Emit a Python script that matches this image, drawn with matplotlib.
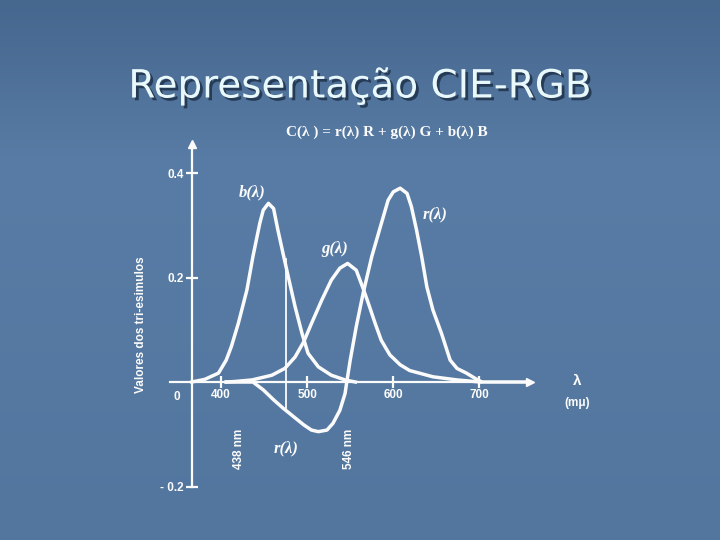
import numpy as np
import matplotlib.pyplot as plt
import matplotlib.patheffects as pe

# curve data (wavelength in nm, tristimulus value)
b_wl = [366, 381, 397, 406, 412, 420, 430, 437, 445, 449, 455, 461, 466, 472, 478,
        486, 494, 501, 513, 528, 544, 556]
b_val = [0.0, 0.005, 0.017, 0.042, 0.068, 0.112, 0.176, 0.240, 0.304, 0.329, 0.342, 0.332, 0.291, 0.246, 0.202,
         0.144, 0.093, 0.055, 0.029, 0.013, 0.004, 0.0]

g_wl = [406, 416, 436, 459, 474, 486, 496, 505, 517, 528, 538, 547, 557, 565, 571,
        579, 586, 596, 608, 619, 646, 674, 701]
g_val = [0.0, 0.001, 0.004, 0.013, 0.026, 0.048, 0.077, 0.112, 0.157, 0.195, 0.218, 0.227, 0.214, 0.179, 0.151,
         0.112, 0.080, 0.052, 0.033, 0.022, 0.010, 0.004, 0.0]

r_wl = [406, 437, 449, 461, 472, 484, 496, 505, 513, 523, 530, 538, 544, 546,
        550, 557, 565, 575, 585, 594, 600, 608, 616, 621, 627, 633, 639, 646, 656, 666,
        674, 685, 697, 703, 753]
r_val = [0.0, 0.0, -0.015, -0.034, -0.050, -0.066, -0.082, -0.092, -0.095, -0.092, -0.079, -0.054, -0.022, 0.0,
         0.042, 0.106, 0.170, 0.240, 0.297, 0.348, 0.364, 0.371, 0.361, 0.336, 0.291, 0.240, 0.182, 0.138, 0.093, 0.042,
         0.026, 0.017, 0.005, 0.0, 0.0]

x_ticks = [400, 500, 600, 700]
y_ticks = [-0.2, 0.2, 0.4]
y_tick_labels = ['- 0.2', '0.2', '0.4']
ref_line_wl = 475

W, H = 720, 540
fig = plt.figure(figsize=(7.2, 5.4), dpi=100)


def fx(px):
    return px / W


def fy(py):
    return 1 - py / H


# background gradient
bg = fig.add_axes([0, 0, 1, 1])
top = np.array([0x46, 0x67, 0x8e]) / 255
mid = np.array([0x58, 0x7c, 0xa5]) / 255
bot = np.array([0x52, 0x76, 0x9e]) / 255
t = np.linspace(0, 1, 300)[:, None]
grad = np.where(t < 0.3, top + (mid - top) * (t / 0.3), mid + (bot - mid) * ((t - 0.3) / 0.7))
bg.imshow(grad[:, None, :].repeat(10, axis=1), aspect='auto', extent=[0, 1, 0, 1])
bg.axis('off')

# main axes: x from 330 to 780 nm, y from -0.25 to 0.5
ax = fig.add_axes([0.2233, 0.0507, 0.5382, 0.7256])
ax.set_xlim(330, 780)
ax.set_ylim(-0.25, 0.5)
ax.patch.set_alpha(0)

white = '#fbfbfb'
for spine in ['top', 'right']:
    ax.spines[spine].set_visible(False)
ax.spines['left'].set_position(('data', 366))
ax.spines['bottom'].set_position(('data', 0))
ax.spines['left'].set_bounds(-0.2, 0.455)
ax.spines['bottom'].set_bounds(341, 757)
for spine in ['left', 'bottom']:
    ax.spines[spine].set_color(white)
    ax.spines[spine].set_linewidth(1.6)

ax.set_xticks(x_ticks)
ax.set_xticklabels([str(v) for v in x_ticks])
ax.set_yticks(y_ticks)
ax.set_yticklabels(y_tick_labels)
ax.tick_params(axis='both', colors=white, direction='inout', length=8, width=1.6,
               labelsize=8.5)
ax.tick_params(axis='x', pad=1)
ax.tick_params(axis='y', pad=2)
for lab in ax.get_xticklabels() + ax.get_yticklabels():
    lab.set_fontweight('bold')
    lab.set_family('Liberation Sans')

# arrowheads
ax.plot([366], [0.455], marker='^', color=white, markersize=6, clip_on=False)
ax.plot([759], [0], marker='>', color=white, markersize=6, clip_on=False)

# curves
lw = 2.5
ax.plot(b_wl, b_val, color=white, lw=lw, solid_joinstyle='round')
ax.plot(g_wl, g_val, color=white, lw=lw, solid_joinstyle='round')
ax.plot(r_wl, r_val, color=white, lw=lw, solid_joinstyle='round')
ax.plot([ref_line_wl, ref_line_wl], [-0.05, 0.235], color=white, lw=1.3)

# curve labels
serif = dict(family='Liberation Serif', style='italic', fontweight='bold', color=white, fontsize=12)
ax.text(436, 0.363, 'b(λ)', ha='center', va='center', **serif)
ax.text(648, 0.321, 'r(λ)', ha='center', va='center', **serif)
ax.text(532, 0.254, 'g(λ)', ha='center', va='center', **serif)
ax.text(476, -0.128, 'r(λ)', ha='center', va='center', **serif)

sans = dict(family='Liberation Sans', fontweight='bold', color=white, fontsize=8.5)
ax.text(421, -0.128, '438 nm', rotation=90, ha='center', va='center', **sans)
ax.text(548, -0.128, '546 nm', rotation=90, ha='center', va='center', **sans)
fig.text(fx(177), fy(397), '0', ha='center', va='center', **sans)
fig.text(fx(577), fy(381), 'λ', ha='center', va='center', family='Liberation Sans',
         fontweight='bold', color=white, fontsize=11)
fig.text(fx(577), fy(403), '(mμ)', ha='center', va='center', **sans)
fig.text(fx(141), fy(325), 'Valores dos tri-esimulos', rotation=90, ha='center', va='center',
         **sans)

# title and formula
fig.text(fx(360), fy(86), 'Representação CIE-RGB', ha='center', va='center',
         family='DejaVu Sans', fontsize=28, color='#e8f8fb',
         path_effects=[pe.withSimplePatchShadow(offset=(2, -2), shadow_rgbFace='#22364f', alpha=0.9)])
fig.text(fx(387), fy(132), 'C(λ ) = r(λ) R + g(λ) G + b(λ) B', ha='center', va='center',
         family='Liberation Serif', fontweight='bold', fontsize=11, color=white)

fig.savefig('out.png', dpi=100)
